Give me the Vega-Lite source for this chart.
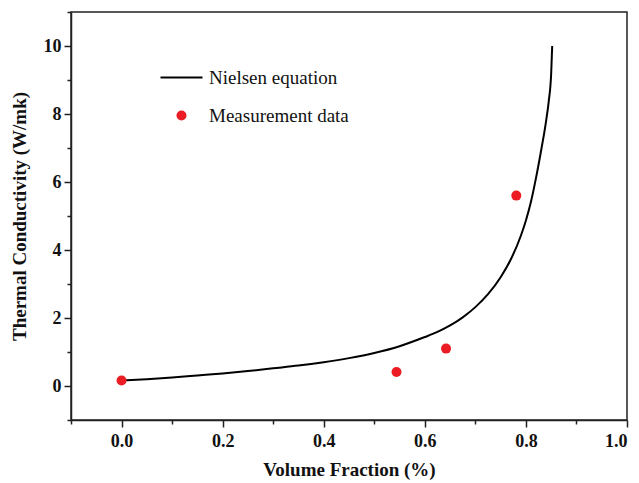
{
  "$schema": "https://vega.github.io/schema/vega-lite/v6.json",
  "width": 556,
  "height": 408,
  "autosize": "none",
  "padding": {"left": 71, "top": 12, "right": 12, "bottom": 63},
  "background": "white",
  "config": {
    "view": {"stroke": "#222", "strokeWidth": 1.5},
    "axis": {
      "domainColor": "#222", "domainWidth": 1.5, "tickColor": "#222", "tickWidth": 1.5,
      "grid": false, "labelFont": "Liberation Serif", "labelFontWeight": "bold", "labelFontSize": 18,
      "labelColor": "#111", "titleFont": "Liberation Serif", "titleFontWeight": "bold", "titleFontSize": 19, "titleColor": "#111"
    }
  },
  "datasets": {
    "curve": [
      {"phi": 0.0, "k": 0.16},
      {"phi": 0.05, "k": 0.2},
      {"phi": 0.1, "k": 0.25},
      {"phi": 0.15, "k": 0.31},
      {"phi": 0.2, "k": 0.37},
      {"phi": 0.25, "k": 0.44},
      {"phi": 0.3, "k": 0.52},
      {"phi": 0.35, "k": 0.6},
      {"phi": 0.4, "k": 0.70},
      {"phi": 0.45, "k": 0.82},
      {"phi": 0.5, "k": 0.97},
      {"phi": 0.55, "k": 1.17},
      {"phi": 0.6, "k": 1.44},
      {"phi": 0.625, "k": 1.59},
      {"phi": 0.65, "k": 1.78},
      {"phi": 0.675, "k": 2.02},
      {"phi": 0.7, "k": 2.32},
      {"phi": 0.725, "k": 2.7},
      {"phi": 0.75, "k": 3.2},
      {"phi": 0.77, "k": 3.72},
      {"phi": 0.79, "k": 4.42},
      {"phi": 0.8, "k": 4.87},
      {"phi": 0.81, "k": 5.42},
      {"phi": 0.82, "k": 6.12},
      {"phi": 0.83, "k": 6.92},
      {"phi": 0.84, "k": 7.8},
      {"phi": 0.845, "k": 8.35},
      {"phi": 0.85, "k": 9.2},
      {"phi": 0.852, "k": 10.0}
    ],
    "meas": [
      {"phi": 0.0, "k": 0.16, "series": "Measurement data"},
      {"phi": 0.544, "k": 0.41, "series": "Measurement data"},
      {"phi": 0.642, "k": 1.1, "series": "Measurement data"},
      {"phi": 0.781, "k": 5.6, "series": "Measurement data"}
    ]
  },
  "encoding": {
    "x": {
      "field": "phi", "type": "quantitative",
      "scale": {"domain": [-0.1, 1.0], "nice": false, "zero": false},
      "axis": {
        "title": "Volume Fraction (%)",
        "values": [-0.1, 0, 0.1, 0.2, 0.3, 0.4, 0.5, 0.6, 0.7, 0.8, 0.9, 1.0],
        "labelExpr": "abs(round(datum.value*10)) % 2 === 0 ? format(datum.value, '.1f') : ''",
        "tickSize": {"condition": {"test": "abs(round(datum.value*10)) % 2 === 0", "value": 7}, "value": 4},
        "labelPadding": 5, "titlePadding": 10
      }
    },
    "y": {
      "field": "k", "type": "quantitative",
      "scale": {"domain": [-1, 11], "nice": false, "zero": false},
      "axis": {
        "title": "Thermal Conductivity (W/mk)",
        "values": [-1, 0, 1, 2, 3, 4, 5, 6, 7, 8, 9, 10, 11],
        "labelExpr": "abs(round(datum.value)) % 2 === 0 && datum.value >= 0 && datum.value <= 10 ? datum.label : ''",
        "tickSize": {"condition": {"test": "abs(round(datum.value)) % 2 === 0", "value": 7}, "value": 4},
        "labelPadding": 3, "titlePadding": 14
      }
    }
  },
  "layer": [
    {
      "data": {"name": "curve"},
      "mark": {"type": "line", "color": "black", "strokeWidth": 2, "interpolate": "monotone"},
      "encoding": {}
    },
    {
      "data": {"name": "meas"},
      "mark": {"type": "point", "filled": true, "size": 100, "opacity": 1},
      "encoding": {
        "color": {
          "field": "series", "type": "nominal",
          "scale": {"domain": ["Nielsen equation", "Measurement data"], "range": ["black", "#ec1c24"]},
          "legend": {
            "title": null, "orient": "none", "legendX": 101, "legendY": 56, "padding": 0,
            "labelFont": "Liberation Serif", "labelFontSize": 19, "labelColor": "#111",
            "labelOffset": 18, "rowPadding": 18, "symbolSize": 100, "symbolOpacity": 1
          }
        },
        "stroke": {
          "field": "series", "type": "nominal",
          "scale": {"domain": ["Nielsen equation", "Measurement data"], "range": ["black", "#ec1c24"]},
          "legend": {
            "title": null, "orient": "none", "legendX": 101, "legendY": 56, "padding": 0,
            "labelFont": "Liberation Serif", "labelFontSize": 19, "labelColor": "#111",
            "labelOffset": 18, "rowPadding": 18, "symbolSize": 100, "symbolOpacity": 1
          }
        },
        "strokeWidth": {
          "field": "series", "type": "nominal",
          "scale": {"domain": ["Nielsen equation", "Measurement data"], "range": [2, 0]},
          "legend": {
            "title": null, "orient": "none", "legendX": 101, "legendY": 56, "padding": 0,
            "labelFont": "Liberation Serif", "labelFontSize": 19, "labelColor": "#111",
            "labelOffset": 18, "rowPadding": 18, "symbolSize": 100, "symbolOpacity": 1
          }
        },
        "shape": {
          "field": "series", "type": "nominal",
          "scale": {"domain": ["Nielsen equation", "Measurement data"], "range": ["M-4.2,0L4.2,0", "circle"]},
          "legend": {
            "title": null, "orient": "none", "legendX": 101, "legendY": 56, "padding": 0,
            "labelFont": "Liberation Serif", "labelFontSize": 19, "labelColor": "#111",
            "labelOffset": 18, "rowPadding": 18, "symbolSize": 100, "symbolOpacity": 1
          }
        }
      }
    }
  ]
}
